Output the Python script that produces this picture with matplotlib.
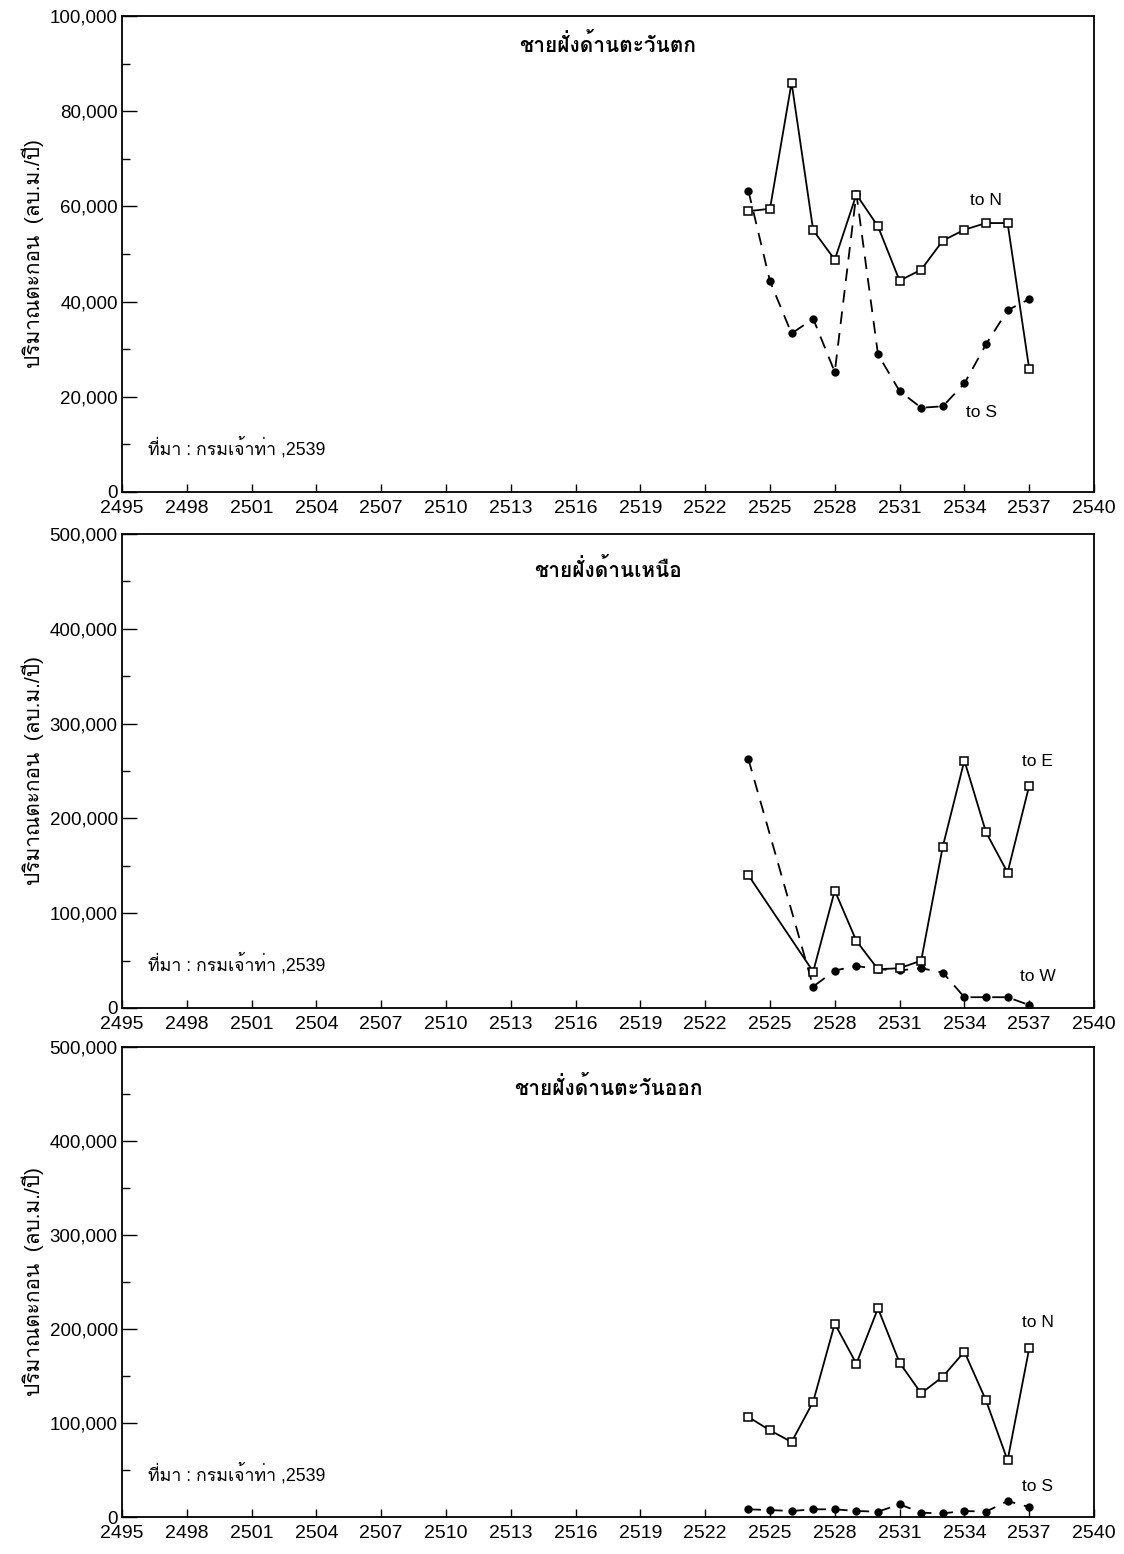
import matplotlib
matplotlib.use("Agg")
import matplotlib.pyplot as plt
from matplotlib import font_manager
from matplotlib.ft2font import FT2Font
from matplotlib.ticker import FuncFormatter, MultipleLocator


def find_thai_font():
    # pick the first installed family that has Thai glyphs
    for f in font_manager.fontManager.ttflist:
        try:
            if ord("ช") in FT2Font(f.fname).get_charmap():
                return f.name
        except Exception:
            continue
    return "DejaVu Sans"


thai = find_thai_font()
plt.rcParams["font.family"] = ["Liberation Sans", thai, "DejaVu Sans"]

# Years (Buddhist era)
years = list(range(2524, 2538))

# West coast (m3/yr)
west_to_n = [59000, 59500, 86000, 55000, 48800, 62500, 55800, 44400, 46700, 52800, 55100, 56500, 56500, 25900]
west_to_s = [63300, 44300, 33300, 36400, 25200, 62700, 28900, 21200, 17700, 18000, 22800, 31000, 38200, 40500]

# North coast
north_e_years = [2524, 2527, 2528, 2529, 2530, 2531, 2532, 2533, 2534, 2535, 2536, 2537]
north_to_e = [140000, 38300, 123800, 70700, 40800, 41900, 49900, 170200, 261000, 185400, 142800, 234300]
north_w_years = [2524, 2527, 2528, 2529, 2530, 2531, 2532, 2533, 2534, 2535, 2536, 2537]
north_to_w = [262500, 22500, 39400, 44300, 40800, 39600, 41900, 37300, 11300, 11300, 11300, 3000]

# East coast
east_to_n = [106400, 92200, 79800, 122700, 205700, 163100, 222000, 164200, 131600, 149300, 175900, 124100, 60300, 179400]
east_to_s = [8200, 7400, 6400, 8200, 8200, 6400, 5700, 13500, 4600, 3900, 6400, 5700, 17000, 10600]

titles = ["ชายฝั่งด้านตะวันตก", "ชายฝั่งด้านเหนือ", "ชายฝั่งด้านตะวันออก"]
ylabel = "ปริมาณตะกอน  (ลบ.ม./ปี)"
source = "ที่มา : กรมเจ้าท่า ,2539"
x_ticks = list(range(2495, 2541, 3))

fig = plt.figure(figsize=(11.24, 15.54), dpi=100)

# axes boxes in figure fraction: left, bottom, width, height
boxes = [
    [0.1085, 0.6834, 0.8648, 0.3063],
    [0.1085, 0.3514, 0.8648, 0.3050],
    [0.1085, 0.0238, 0.8648, 0.3024],
]
ymax = [100000, 500000, 500000]
ymajor = [20000, 100000, 100000]
title_y = [0.94, 0.925, 0.915]

solid = dict(color="black", lw=1.3, marker="s", ms=5.5, mfc="white", mec="black", mew=1.1)
dashed = dict(color="black", lw=1.3, ls=(0, (7, 5)), marker="o", ms=5, mfc="black", mec="black")

axes = []
for i, box in enumerate(boxes):
    ax = fig.add_axes(box)
    ax.set_xlim(2495, 2540)
    ax.set_ylim(0, ymax[i])
    ax.set_xticks(x_ticks)
    ax.set_xticklabels([str(t) for t in x_ticks])
    ax.yaxis.set_major_locator(MultipleLocator(ymajor[i]))
    ax.yaxis.set_minor_locator(MultipleLocator(ymajor[i] / 2))
    ax.yaxis.set_major_formatter(FuncFormatter(lambda v, p: f"{int(v):,}"))
    ax.tick_params(axis="x", direction="in", length=6, width=1.0, pad=6, labelsize=14)
    ax.tick_params(axis="y", which="major", direction="in", length=11, width=1.0, pad=3, labelsize=13.5)
    ax.tick_params(axis="y", which="minor", direction="in", length=6, width=1.0)
    for s in ax.spines.values():
        s.set_linewidth(1.3)
    ax.text(0.5, title_y[i], titles[i], transform=ax.transAxes, ha="center", va="center",
            fontsize=15, fontweight="bold")
    ax.text(0.027, 0.093, source, transform=ax.transAxes, ha="left", va="center", fontsize=12.8)
    ax.set_ylabel(ylabel, fontsize=15)
    ax.yaxis.set_label_coords(-0.08, 0.5)
    axes.append(ax)

# West coast
ax = axes[0]
ax.plot(years, west_to_s, **dashed)
ax.plot(years, west_to_n, **solid)
ax.text(2535.0, 61200, "to N", fontsize=12.5, ha="center", va="center")
ax.text(2534.8, 16600, "to S", fontsize=12.5, ha="center", va="center")

# North coast
ax = axes[1]
ax.plot(north_w_years, north_to_w, **dashed)
ax.plot(north_e_years, north_to_e, **solid)
ax.text(2537.4, 259600, "to E", fontsize=12.5, ha="center", va="center")
ax.text(2537.4, 32700, "to W", fontsize=12.5, ha="center", va="center")

# East coast
ax = axes[2]
ax.plot(years, east_to_s, **dashed)
ax.plot(years, east_to_n, **solid)
ax.text(2537.4, 207000, "to N", fontsize=12.5, ha="center", va="center")
ax.text(2537.4, 32000, "to S", fontsize=12.5, ha="center", va="center")

fig.savefig("out.png", dpi=100)
